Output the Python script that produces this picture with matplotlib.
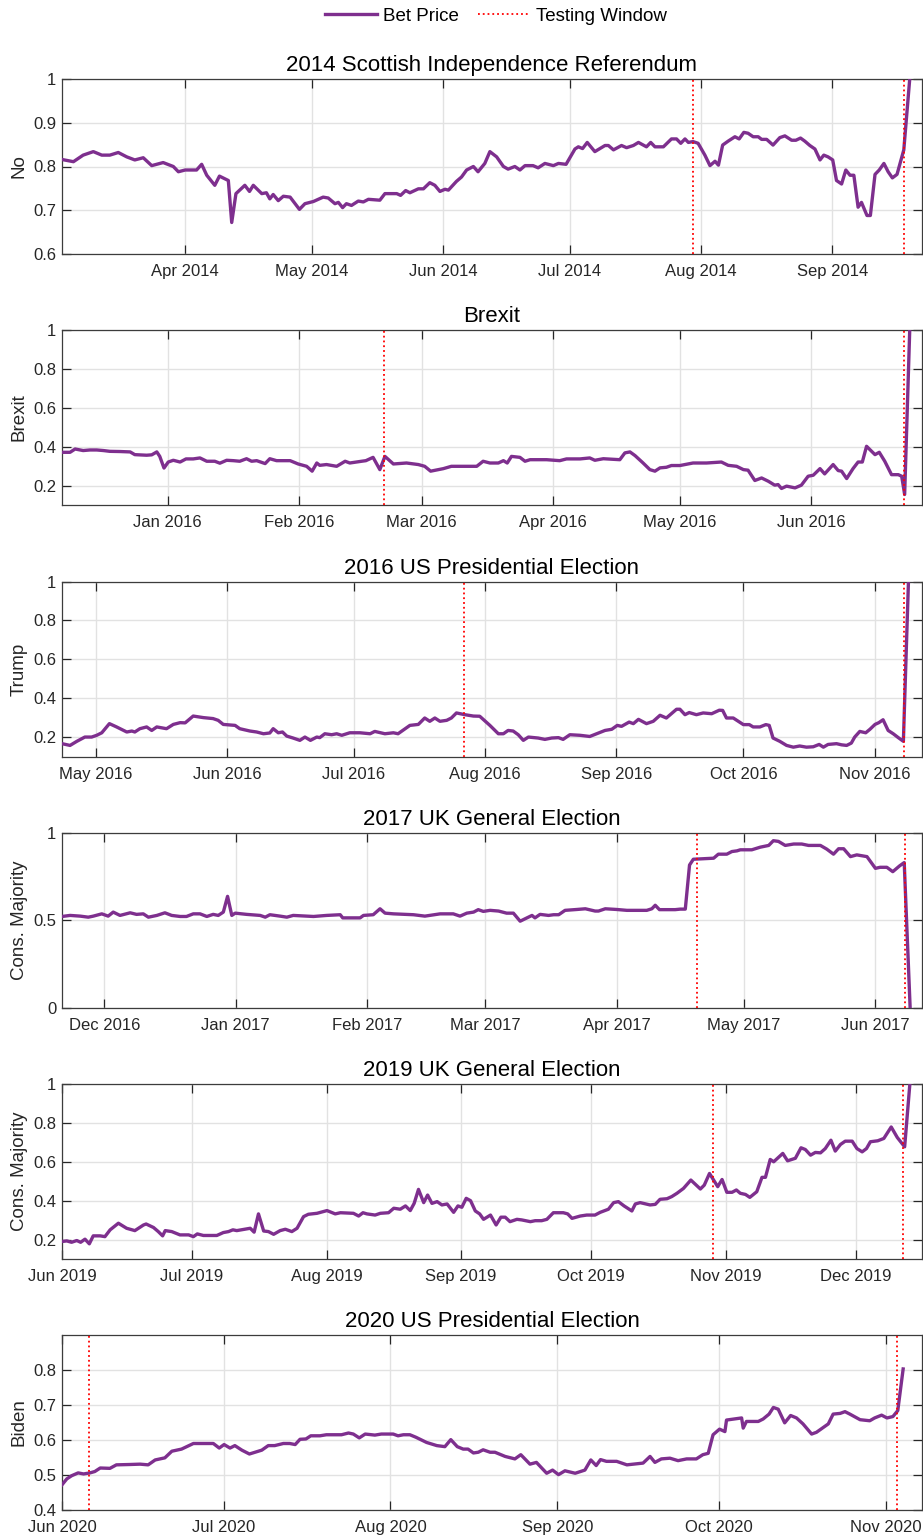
import pandas as pd
import matplotlib
matplotlib.use("Agg")
import matplotlib.pyplot as plt
import matplotlib.dates as mdates
from matplotlib.lines import Line2D

plt.rcParams['font.family'] = ['Liberation Sans', 'DejaVu Sans']

# ---- data: days since first observation, bet price ----
scot_start = '2014-03-03'
scot_days = [0.0, 2.7, 5.0, 7.4, 9.4, 11.3, 13.3, 15.3, 17.2, 19.2, 21.2, 23.9, 26.3, 27.5, 29.1,
             31.8, 33.0, 34.2, 36.1, 37.2, 39.3, 40.1, 41.1, 43.2, 44.3, 45.2, 47.2, 48.3, 49.1,
             49.9, 51.1, 52.3, 53.9, 56.1, 57.4, 59.4, 61.7, 62.9, 64.5, 65.3, 66.3, 67.2, 68.4,
             70.0, 71.2, 72.4, 75.1, 76.3, 79.1, 80.0, 81.2, 82.2, 84.2, 85.4, 86.9, 88.1, 89.3,
             90.5, 91.3, 93.2, 94.4, 95.6, 97.2, 98.3, 99.9, 101.1,
             102.7, 104.3, 105.4, 107.0, 108.2, 109.4, 111.3, 112.5, 114.1, 116.1, 117.3, 119.1,
             121.2, 122.0, 123.0, 124.1, 125.9, 128.3, 129.1, 130.3, 132.2, 133.4, 135.0, 136.2,
             138.1, 139.1, 140.1, 142.1, 144.0, 145.2, 146.2, 147.2, 148.0, 149.1, 150.3, 151.9,
             153.1, 154.3, 155.1, 156.1, 157.4, 159.0, 160.0, 161.1, 162.1, 163.3, 164.5, 165.3,
             166.5, 168.0, 169.6, 170.8, 172.4, 173.4, 174.5, 175.5, 176.7, 177.9, 179.1, 180.0,
             181.0, 182.1, 183.0, 184.2, 185.2, 186.2, 187.1, 188.1, 188.9, 190.2, 191.0, 192.1,
             193.1, 194.2, 195.2, 196.2, 197.3, 198.9, 200.3]
scot_price = [0.816, 0.811, 0.826, 0.834, 0.826, 0.826, 0.832, 0.822, 0.815, 0.820, 0.802, 0.809,
              0.800, 0.788, 0.792, 0.792, 0.805, 0.780, 0.757, 0.778, 0.768, 0.672, 0.738, 0.757,
              0.743, 0.757, 0.738, 0.740, 0.726, 0.736, 0.722, 0.732, 0.730, 0.702, 0.715, 0.720,
              0.730, 0.728, 0.715, 0.718, 0.706, 0.715, 0.711, 0.721, 0.719, 0.725, 0.723, 0.738,
              0.738, 0.734, 0.745, 0.740, 0.749, 0.749, 0.763, 0.757, 0.743, 0.748, 0.746, 0.766,
              0.776, 0.792, 0.800, 0.788, 0.807, 0.834,
              0.822, 0.800, 0.794, 0.800, 0.792, 0.802, 0.802, 0.797, 0.807, 0.802, 0.807, 0.805,
              0.840, 0.845, 0.841, 0.855, 0.834, 0.848, 0.848, 0.838, 0.848, 0.843, 0.848, 0.855,
              0.845, 0.855, 0.845, 0.845, 0.863, 0.863, 0.853, 0.863, 0.855, 0.857, 0.853, 0.826,
              0.802, 0.812, 0.803, 0.849, 0.858, 0.868, 0.863, 0.878, 0.876, 0.868, 0.868, 0.862,
              0.862, 0.849, 0.866, 0.870, 0.860, 0.860, 0.865, 0.858, 0.848, 0.840, 0.815, 0.826,
              0.822, 0.815, 0.768, 0.760, 0.792, 0.780, 0.780, 0.707, 0.718, 0.688, 0.688, 0.782,
              0.792, 0.807, 0.788, 0.774, 0.782, 0.838, 1.000]
scot_window = ['2014-07-30', '2014-09-18']

brexit_start = '2015-12-07'
brexit_days = [0.0, 1.9, 3.1, 5.0, 6.6, 8.2, 9.8, 11.3, 13.7, 16.1, 17.2, 20.0, 21.2, 22.4, 23.1,
               24.1, 25.1, 26.3, 27.9, 29.3, 31.0, 32.6, 34.2, 36.1, 37.3, 38.9, 40.5, 42.0, 43.6,
               44.8, 46.0, 48.0, 49.1, 50.7, 53.9, 55.8, 57.8, 59.1, 60.2, 60.9, 62.5, 64.9, 66.9,
               68.0, 70.8, 71.8, 73.5, 75.1, 76.3, 78.3, 81.4, 84.2, 85.7, 87.1, 90.1, 92.0, 98.0,
               99.5, 101.1,
               103.1, 104.3, 105.2, 106.2, 108.2, 109.4, 110.6, 114.5, 117.6, 119.2, 122.4, 124.7,
               125.9, 127.9, 131.8, 133.0, 134.2, 135.4, 137.3, 138.9, 140.1, 141.3, 142.8, 144.0,
               146.0, 149.1, 152.3, 155.8, 157.4, 159.4, 161.0, 162.1, 163.7, 165.3, 166.9, 168.4,
               169.2, 170.0, 171.2, 173.2, 174.7, 176.3, 177.5, 179.1, 180.2, 182.2, 183.4, 184.2,
               185.4, 186.9, 188.1, 189.1, 190.1, 191.3, 192.1, 193.1, 194.4, 196.0, 197.6, 198.4,
               199.1, 200.3]
brexit_price = [0.371, 0.371, 0.388, 0.380, 0.383, 0.383, 0.380, 0.376, 0.375, 0.373, 0.359, 0.356,
                0.358, 0.373, 0.350, 0.290, 0.321, 0.330, 0.321, 0.337, 0.337, 0.342, 0.325, 0.325,
                0.315, 0.330, 0.328, 0.325, 0.338, 0.325, 0.328, 0.313, 0.338, 0.328, 0.328, 0.311,
                0.299, 0.274, 0.316, 0.304, 0.308, 0.299, 0.325, 0.316, 0.325, 0.328, 0.345, 0.282,
                0.350, 0.311, 0.316, 0.308, 0.299, 0.274, 0.287, 0.299, 0.299, 0.325, 0.316,
                0.316, 0.328, 0.316, 0.350, 0.345, 0.325, 0.333, 0.333, 0.328, 0.337, 0.337, 0.342,
                0.330, 0.338, 0.333, 0.368, 0.373, 0.354, 0.316, 0.282, 0.274, 0.291, 0.294, 0.303,
                0.303, 0.316, 0.316, 0.321, 0.304, 0.299, 0.282, 0.279, 0.226, 0.239, 0.222, 0.202,
                0.205, 0.185, 0.197, 0.188, 0.202, 0.248, 0.253, 0.287, 0.260, 0.308, 0.277, 0.274,
                0.236, 0.287, 0.321, 0.321, 0.402, 0.376, 0.359, 0.371, 0.325, 0.256, 0.256, 0.248,
                0.154, 1.000]
brexit_window = ['2016-02-21', '2016-06-23']

us16_start = '2016-04-23'
us16_days = [0.0, 1.9, 3.5, 5.4, 7.0, 8.2, 9.4, 11.2, 12.9, 15.3, 16.5, 17.2, 18.4, 20.0, 21.2,
             22.4, 24.7, 26.3, 27.9, 29.1, 31.0, 33.4, 35.7, 36.9, 38.1, 40.9, 42.0, 44.4, 46.0,
             47.6, 49.1, 49.9, 51.1, 52.1, 53.1, 54.6, 56.2, 57.4, 58.7, 60.2, 60.9, 62.1, 63.7,
             64.9, 66.1, 68.0, 70.4, 72.8, 73.9, 76.3, 78.3, 79.4, 82.2, 84.2, 85.7, 86.9, 88.1,
             89.3, 90.9, 92.0, 93.2, 95.2, 97.2, 98.7, 101.1,
             101.9, 103.1, 104.3, 105.4, 106.6, 107.8, 109.0, 110.2, 112.5, 114.1, 115.7, 117.3,
             118.4, 120.0, 122.4, 124.7, 126.3, 128.3, 129.9, 131.2, 132.2, 134.0, 135.0, 136.2,
             138.1, 139.7, 141.3, 142.8, 145.2, 146.0, 147.2, 148.2, 149.9, 151.5, 153.5, 155.3,
             156.1, 157.0, 158.6, 159.8, 161.0, 162.4, 163.3, 164.9, 166.3, 167.1, 168.0, 169.6,
             171.2, 172.8, 174.3, 175.9, 177.5, 178.9, 179.9, 181.0, 183.0, 184.2, 185.4, 186.5,
             187.3, 188.5, 189.9, 190.9, 192.1, 193.0, 194.0, 195.2, 196.4, 197.6, 198.8, 200.0]
us16_price = [0.166, 0.157, 0.178, 0.200, 0.200, 0.209, 0.222, 0.269, 0.252, 0.226, 0.231, 0.226,
              0.243, 0.252, 0.234, 0.252, 0.243, 0.265, 0.274, 0.273, 0.308, 0.300, 0.295, 0.286,
              0.265, 0.260, 0.243, 0.231, 0.226, 0.217, 0.221, 0.243, 0.222, 0.226, 0.205, 0.195,
              0.183, 0.200, 0.183, 0.200, 0.197, 0.217, 0.212, 0.217, 0.209, 0.222, 0.222, 0.217,
              0.229, 0.217, 0.222, 0.217, 0.260, 0.265, 0.298, 0.281, 0.298, 0.281, 0.286, 0.298,
              0.324, 0.315, 0.308, 0.307, 0.260,
              0.243, 0.217, 0.217, 0.234, 0.231, 0.212, 0.183, 0.200, 0.195, 0.188, 0.195, 0.197,
              0.188, 0.212, 0.209, 0.203, 0.217, 0.234, 0.240, 0.260, 0.255, 0.277, 0.269, 0.291,
              0.269, 0.281, 0.312, 0.298, 0.343, 0.343, 0.315, 0.326, 0.315, 0.324, 0.320, 0.338,
              0.337, 0.298, 0.298, 0.281, 0.264, 0.264, 0.252, 0.252, 0.264, 0.260, 0.195, 0.178,
              0.157, 0.148, 0.154, 0.148, 0.150, 0.162, 0.148, 0.162, 0.166, 0.160, 0.157, 0.169,
              0.200, 0.229, 0.222, 0.240, 0.265, 0.274, 0.289, 0.234, 0.217, 0.197, 0.178, 1.000]
us16_window = ['2016-07-27', '2016-11-08']

uk17_start = '2016-11-21'
uk17_days = [0.0, 1.9, 4.3, 6.2, 7.4, 9.4, 10.9, 12.1, 13.7, 16.1, 17.6, 19.2, 20.4, 22.4, 24.3,
             25.9, 27.9, 29.4, 31.0, 32.6, 34.2, 35.7, 36.9, 38.1, 39.1, 40.1, 40.9, 43.6, 46.8,
             48.0, 49.1, 51.5, 53.1, 54.6, 59.4, 62.5, 65.7, 66.3, 70.4, 71.2, 73.5, 75.1, 76.3,
             78.3, 83.0, 85.7, 89.3, 92.4, 94.0, 95.6, 97.2, 98.3, 99.5, 101.1,
             103.1, 105.0, 106.6, 108.2, 109.8, 111.0, 111.7, 112.9, 114.9, 116.1, 117.3, 118.8,
             121.6, 123.6, 125.9, 126.7, 128.3, 131.0, 133.4, 138.1, 139.3, 140.1, 141.1, 144.8,
             146.0, 147.2, 148.2, 149.1, 153.9, 155.0, 157.0, 158.2, 159.4, 160.2, 162.9, 164.9,
             166.9, 168.0, 169.2, 170.8, 172.8, 174.7, 176.3, 179.1, 180.6, 182.2, 183.4, 184.6,
             186.2, 187.7, 190.1, 192.1, 193.2, 194.8, 196.2, 197.8, 198.9, 200.3]
uk17_price = [0.523, 0.529, 0.525, 0.519, 0.525, 0.538, 0.525, 0.548, 0.529, 0.544, 0.535, 0.538,
              0.519, 0.529, 0.544, 0.529, 0.523, 0.523, 0.538, 0.538, 0.523, 0.535, 0.529, 0.548,
              0.638, 0.529, 0.542, 0.535, 0.529, 0.519, 0.533, 0.525, 0.519, 0.529, 0.523, 0.529,
              0.533, 0.515, 0.515, 0.529, 0.533, 0.567, 0.542, 0.538, 0.533, 0.525, 0.538, 0.538,
              0.525, 0.542, 0.548, 0.562, 0.552, 0.558,
              0.554, 0.542, 0.542, 0.496, 0.515, 0.529, 0.515, 0.535, 0.529, 0.533, 0.533, 0.558,
              0.563, 0.567, 0.554, 0.554, 0.567, 0.563, 0.558, 0.558, 0.567, 0.587, 0.562, 0.562,
              0.565, 0.565, 0.817, 0.850, 0.856, 0.879, 0.879, 0.894, 0.898, 0.904, 0.904, 0.919,
              0.929, 0.956, 0.952, 0.929, 0.937, 0.937, 0.929, 0.929, 0.908, 0.879, 0.910, 0.910,
              0.865, 0.875, 0.865, 0.798, 0.804, 0.804, 0.779, 0.812, 0.831, 0.000]
uk17_window = ['2017-04-20', '2017-06-08']

uk19_start = '2019-06-01'
uk19_days = [0.0, 1.1, 2.2, 3.4, 4.3, 5.3, 6.3, 7.2, 8.8, 9.9, 11.1, 13.0, 14.9, 16.8, 18.8,
             19.4, 21.1, 22.2, 23.2, 23.8, 25.3, 27.2, 29.2, 30.3, 31.2, 32.6, 35.7, 37.2, 38.4,
             39.4, 40.3, 43.4, 44.3, 45.3, 46.5, 47.6, 48.8, 50.3, 51.5, 53.0, 54.2, 55.7, 56.8,
             58.8, 61.1, 63.0, 64.2, 67.2, 68.4, 69.4, 70.3, 72.2, 73.4, 75.3, 76.5, 78.0, 79.2,
             80.3, 81.2, 82.2, 83.4, 84.3, 85.3, 86.5, 87.6, 88.8, 90.3, 91.3, 92.2, 93.2, 94.2,
             95.3, 96.3, 97.2, 98.8,
             100.1, 101.2, 102.2, 103.3, 104.9, 106.0, 108.0, 109.1, 110.6, 111.8, 113.3, 115.6,
             116.6, 117.6, 119.5, 121.0, 122.9, 124.1, 126.0, 127.2, 128.3, 129.6, 131.4, 132.2,
             133.3, 135.6, 136.8, 137.9, 139.5, 140.6, 141.8, 143.3, 145.0, 147.2, 148.1, 149.3,
             151.2, 152.2, 153.3, 154.5, 155.5, 156.4, 157.6, 158.6, 160.2, 161.4, 162.2, 163.3,
             164.1, 166.2, 167.3, 169.1, 170.4, 171.4, 172.6, 173.7, 174.9, 176.0, 177.3, 178.3,
             179.5, 180.6, 182.2, 183.3, 184.5, 185.5, 186.4, 188.1, 189.5, 191.2, 192.6, 194.3,
             195.5]
uk19_price = [0.190, 0.193, 0.186, 0.195, 0.186, 0.202, 0.178, 0.219, 0.219, 0.215, 0.250, 0.284,
              0.258, 0.246, 0.275, 0.280, 0.262, 0.241, 0.219, 0.246, 0.241, 0.224, 0.224, 0.215,
              0.229, 0.221, 0.221, 0.236, 0.241, 0.250, 0.246, 0.258, 0.238, 0.332, 0.244, 0.241,
              0.227, 0.246, 0.253, 0.241, 0.258, 0.318, 0.330, 0.335, 0.349, 0.332, 0.338, 0.335,
              0.321, 0.338, 0.332, 0.326, 0.335, 0.338, 0.361, 0.356, 0.373, 0.349, 0.386, 0.458,
              0.390, 0.429, 0.386, 0.395, 0.378, 0.383, 0.340, 0.373, 0.366, 0.412, 0.400, 0.347,
              0.332, 0.304, 0.326,
              0.275, 0.315, 0.315, 0.292, 0.304, 0.301, 0.292, 0.297, 0.297, 0.304, 0.338, 0.338,
              0.332, 0.309, 0.321, 0.326, 0.326, 0.340, 0.356, 0.390, 0.395, 0.373, 0.347, 0.383,
              0.390, 0.378, 0.381, 0.407, 0.410, 0.421, 0.438, 0.463, 0.506, 0.460, 0.480, 0.540,
              0.472, 0.509, 0.443, 0.443, 0.455, 0.438, 0.432, 0.417, 0.446, 0.520, 0.520, 0.612,
              0.600, 0.643, 0.605, 0.618, 0.672, 0.663, 0.634, 0.648, 0.646, 0.668, 0.711, 0.655,
              0.689, 0.706, 0.706, 0.668, 0.651, 0.668, 0.703, 0.708, 0.720, 0.779, 0.725, 0.677,
              1.000]
uk19_window = ['2019-10-29', '2019-12-12']

us20_start = '2020-06-01'
us20_days = [0.0, 0.9, 1.8, 3.0, 4.0, 5.2, 6.1, 7.1, 8.9, 10.1, 12.6, 14.5, 16.0, 17.3, 19.1,
             20.4, 22.2, 24.4, 28.1, 29.2, 30.1, 31.2, 32.1, 33.4, 34.8, 37.1, 38.3, 39.5, 41.1,
             42.3, 43.3, 44.2, 45.3, 46.2, 47.9, 49.1, 51.9, 53.2, 54.1, 55.2, 56.3, 58.1, 59.3,
             61.5, 62.4, 63.4, 64.6, 65.7, 67.7, 69.6, 71.1, 72.2, 73.4, 74.5, 75.4, 76.4, 77.3,
             78.2, 79.5,
             80.4, 82.3, 84.1, 85.2, 86.9, 88.1, 90.0, 91.1, 92.2, 93.4, 95.3, 97.1, 98.2, 99.2,
             100.0, 101.1, 103.0, 104.9, 106.1, 107.9, 109.2, 110.1, 111.3, 112.9, 114.4, 116.0,
             117.8, 119.0, 120.0, 120.9, 122.1, 123.1, 123.4, 126.2, 126.5, 127.1, 129.3, 130.2,
             131.3, 132.1, 133.0, 134.2, 135.3, 136.4, 137.6, 139.2, 140.1, 142.3, 143.2, 144.5,
             145.4, 146.3, 148.2, 150.0, 150.9, 152.2, 153.2, 154.3, 155.2, 156.2]
us20_price = [0.472, 0.489, 0.498, 0.506, 0.503, 0.506, 0.510, 0.520, 0.519, 0.529, 0.530, 0.531,
              0.529, 0.543, 0.549, 0.568, 0.574, 0.590, 0.590, 0.577, 0.587, 0.577, 0.584, 0.571,
              0.560, 0.571, 0.584, 0.584, 0.590, 0.590, 0.587, 0.602, 0.603, 0.612, 0.612, 0.615,
              0.615, 0.620, 0.617, 0.606, 0.617, 0.614, 0.617, 0.617, 0.612, 0.615, 0.615, 0.608,
              0.593, 0.584, 0.581, 0.601, 0.581, 0.574, 0.574, 0.563, 0.565, 0.572, 0.565,
              0.565, 0.553, 0.546, 0.558, 0.531, 0.536, 0.505, 0.514, 0.501, 0.512, 0.505, 0.514,
              0.543, 0.527, 0.544, 0.539, 0.539, 0.529, 0.531, 0.534, 0.553, 0.536, 0.546, 0.548,
              0.541, 0.546, 0.546, 0.558, 0.562, 0.615, 0.631, 0.624, 0.657, 0.663, 0.634, 0.653,
              0.653, 0.660, 0.674, 0.693, 0.688, 0.649, 0.670, 0.663, 0.646, 0.617, 0.622, 0.646,
              0.674, 0.676, 0.681, 0.674, 0.658, 0.655, 0.663, 0.671, 0.663, 0.667, 0.684, 0.803]
us20_window = ['2020-06-06', '2020-11-03']

panels = [
    ('2014 Scottish Independence Referendum', 'No', scot_start, scot_days, scot_price, scot_window),
    ('Brexit', 'Brexit', brexit_start, brexit_days, brexit_price, brexit_window),
    ('2016 US Presidential Election', 'Trump', us16_start, us16_days, us16_price, us16_window),
    ('2017 UK General Election', 'Cons. Majority', uk17_start, uk17_days, uk17_price, uk17_window),
    ('2019 UK General Election', 'Cons. Majority', uk19_start, uk19_days, uk19_price, uk19_window),
    ('2020 US Presidential Election', 'Biden', us20_start, us20_days, us20_price, us20_window),
]

# ---- layout (pixels on a 923x1537 canvas) ----
W, H = 923, 1537
LEFT, AX_W, AX_H = 62, 860, 175
tops = [79, 330, 581.5, 833, 1084, 1335]
spans = [203.2, 203.2, 203.2, 203.1, 198.3, 159.7]   # visible days per panel
ylims = [(0.6, 1), (0.1, 1), (0.1, 1), (0, 1), (0.1, 1), (0.4, 0.9)]
yticks = [[0.6, 0.7, 0.8, 0.9, 1], [0.2, 0.4, 0.6, 0.8, 1], [0.2, 0.4, 0.6, 0.8, 1],
          [0, 0.5, 1], [0.2, 0.4, 0.6, 0.8, 1], [0.4, 0.5, 0.6, 0.7, 0.8]]

PURPLE = '#7E2F8E'
AXCOL = '#262626'

fig = plt.figure(figsize=(W / 100, H / 100), dpi=100)

for i, (title, ylab, start, days, price, window) in enumerate(panels):
    ax = fig.add_axes([LEFT / W, 1 - (tops[i] + AX_H) / H, AX_W / W, AX_H / H])
    t0 = pd.Timestamp(start)
    dates = t0 + pd.to_timedelta(days, unit='D')

    ax.plot(dates, price, color=PURPLE, lw=2.4, zorder=3, solid_joinstyle='round')
    for w in window:
        ax.axvline(pd.Timestamp(w), color='red', ls=':', lw=1.3, zorder=4)

    ax.set_xlim(t0, t0 + pd.Timedelta(days=spans[i]))
    ax.set_ylim(*ylims[i])
    ax.set_yticks(yticks[i])
    ax.set_yticklabels(['%g' % v for v in yticks[i]])
    ax.xaxis.set_major_locator(mdates.MonthLocator())
    ax.xaxis.set_major_formatter(mdates.DateFormatter('%b %Y'))

    ax.grid(True, color='#e2e2e2', lw=1.0)
    ax.set_axisbelow(True)
    for s in ax.spines.values():
        s.set_color('#3c3c3c')
        s.set_linewidth(0.9)
    ax.tick_params(direction='in', length=6.5, width=0.9, top=True, right=True,
                   labelsize=12, colors=AXCOL)
    ax.tick_params(axis='x', pad=7.5)
    ax.tick_params(axis='y', pad=4)

    ax.set_title(title, fontsize=16, pad=5.5, color='black')
    ax.set_ylabel(ylab, fontsize=13.5, color=AXCOL)
    ax.yaxis.set_label_coords(-0.040, 0.5)

handles = [Line2D([], [], color=PURPLE, lw=2.4),
           Line2D([], [], color='red', ls=':', lw=1.3)]
fig.legend(handles, ['Bet Price', 'Testing Window'], loc='upper center',
           bbox_to_anchor=(0.537, 1.0), ncol=2, frameon=False, fontsize=13.5,
           handlelength=2.8, handletextpad=0.3, columnspacing=1.0, borderaxespad=0.0)

fig.savefig('out.png', dpi=100)
plt.close(fig)
